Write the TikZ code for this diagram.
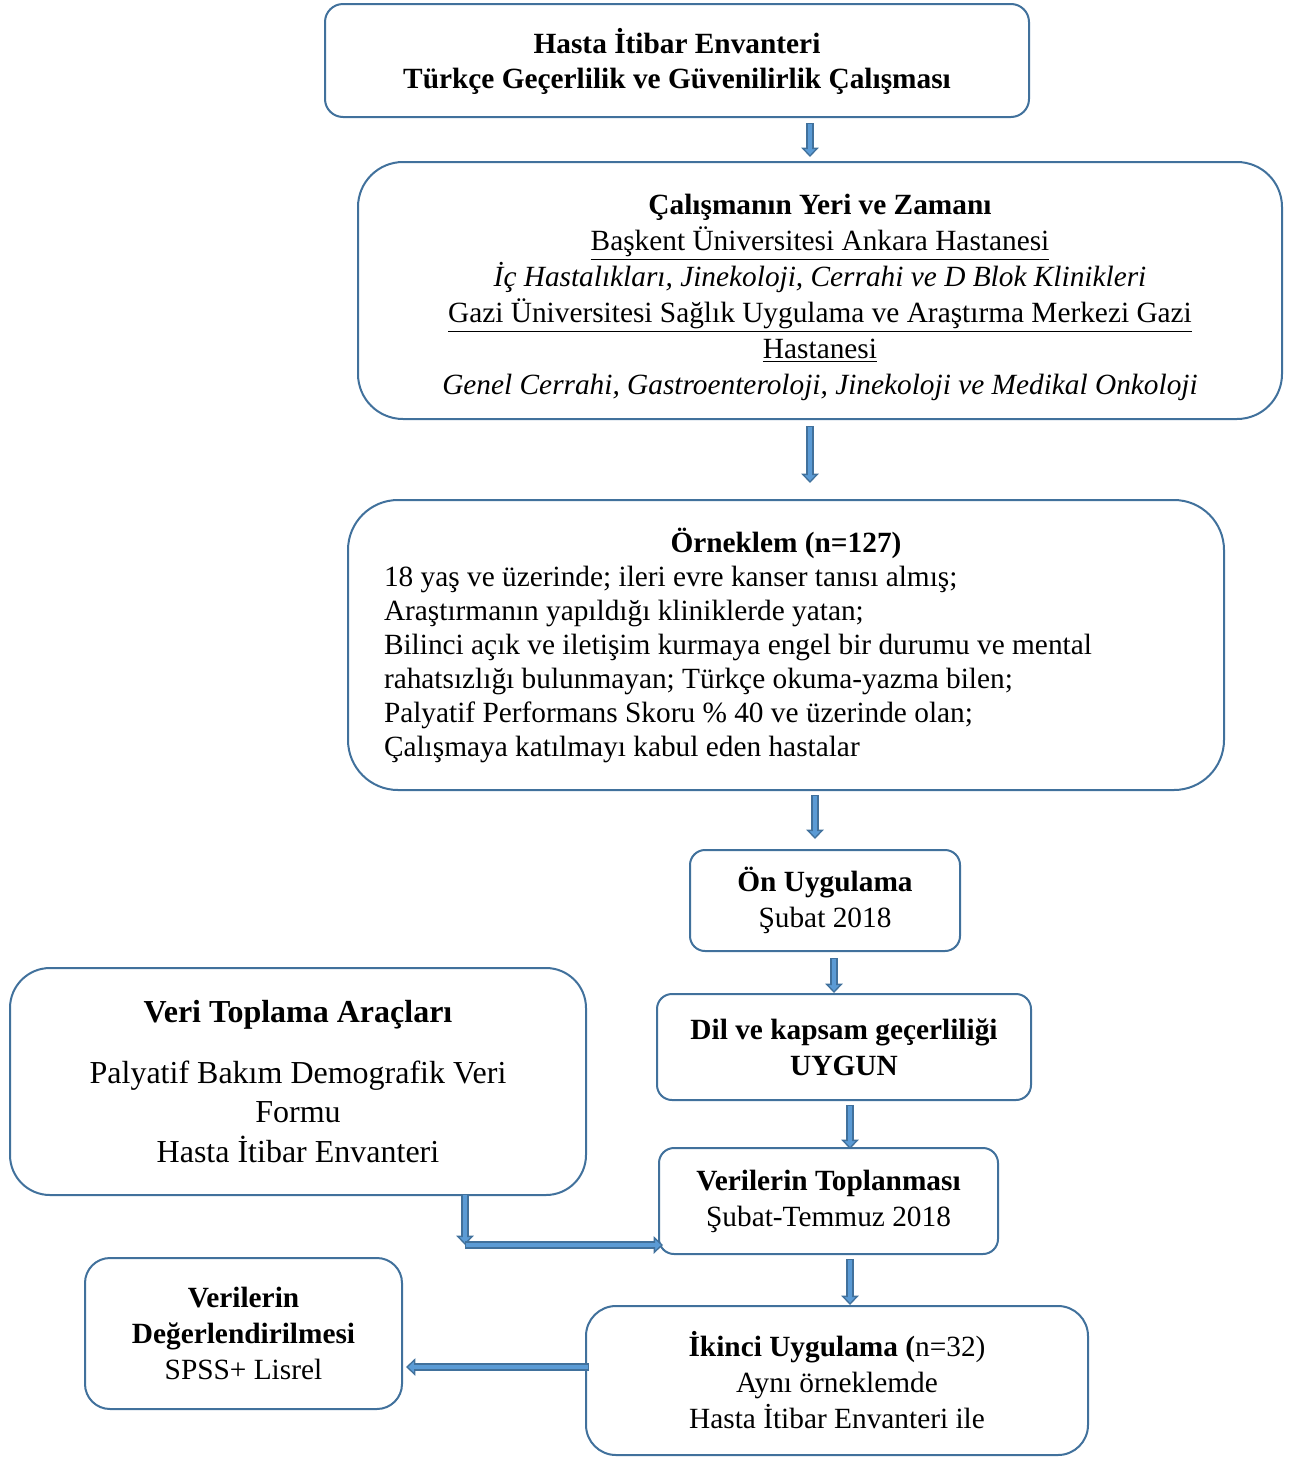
\documentclass[tikz,border=0pt]{standalone}
\usepackage{fontspec}
\setmainfont{Liberation Serif}
\usetikzlibrary{calc,arrows.meta}
\definecolor{boxedge}{HTML}{41719C}
\definecolor{arrowfill}{HTML}{5B9BD5}
\definecolor{arrowedge}{HTML}{41719C}

\tikzset{
    stagebox/.style={draw=boxedge, line width=1.5pt, fill=white, align=center, inner sep=0pt,
        font=\fontsize{22}{27}\selectfont},
    flowarrow/.style={arrowedge, line width=6pt,
        -{Triangle[width=13pt,length=7pt,fill=arrowfill,line width=1pt]},
        postaction={draw=arrowfill, line width=3pt, -, shorten >=5.5pt, shorten <=0.8pt}},
}

\begin{document}
\begin{tikzpicture}[x=0.75pt,y=-0.75pt]
    \useasboundingbox (0,0) rectangle (1296,1457);

    % Study title
    \node[stagebox, rounded corners=13.5pt, minimum width=528pt, minimum height=84.75pt,
        font=\fontsize{22}{26.25}\selectfont] (study) at (677,60.5)
        {\rule{0pt}{20pt}\textbf{Hasta İtibar Envanteri}\\\textbf{Türkçe Geçerlilik ve Güvenilirlik Çalışması}};

    % Place and time
    \node[stagebox, rounded corners=33.75pt, minimum width=693pt, minimum height=192.75pt] (place) at (820,290.5)
        {\rule{0pt}{26pt}\textbf{Çalışmanın Yeri ve Zamanı}\\
         \underline{Başkent Üniversitesi Ankara Hastanesi}\\
         \textit{İç Hastalıkları, Jinekoloji, Cerrahi ve D Blok Klinikleri}\\
         \underline{Gazi Üniversitesi Sağlık Uygulama ve Araştırma Merkezi Gazi}\\
         \underline{Hastanesi}\\
         \textit{Genel Cerrahi, Gastroenteroloji, Jinekoloji ve Medikal Onkoloji}};

    % Sample
    \node[stagebox, rounded corners=37.5pt, minimum width=657pt, minimum height=217.5pt,
        text width=603pt, align=left, font=\fontsize{22}{25.5}\selectfont] (sample) at (786,645)
        {\spaceskip=0pt\xspaceskip=0pt
         {\centering\textbf{Örneklem (n=127)}\par}
         18 yaş ve üzerinde; ileri evre kanser tanısı almış;\\
         Araştırmanın yapıldığı kliniklerde yatan;\\
         Bilinci açık ve iletişim kurmaya engel bir durumu ve mental\\
         rahatsızlığı bulunmayan; Türkçe okuma-yazma bilen;\\
         Palyatif Performans Skoru \% 40 ve üzerinde olan;\\
         Çalışmaya katılmayı kabul eden hastalar};

    % Right column steps
    \node[stagebox, rounded corners=11.25pt, minimum width=202.5pt, minimum height=75.75pt] (pretest) at (825,900.5)
        {\textbf{Ön Uygulama}\\Şubat 2018};
    \node[stagebox, rounded corners=11.25pt, minimum width=280.5pt, minimum height=79.5pt] (language) at (844,1047)
        {\textbf{Dil ve kapsam geçerliliği}\\\textbf{UYGUN}};
    \node[stagebox, rounded corners=11.25pt, minimum width=254.25pt, minimum height=79.5pt] (collect) at (828.5,1201)
        {\textbf{Verilerin Toplanması}\\Şubat-Temmuz 2018};
    \node[stagebox, rounded corners=22.5pt, minimum width=376.5pt, minimum height=111.75pt] (retest) at (837,1380.5)
        {\textbf{İkinci Uygulama (}n=32)\\Aynı örneklemde\\Hasta İtibar Envanteri ile};

    % Left column
    \node[stagebox, rounded corners=30pt, minimum width=432pt, minimum height=170.25pt,
        font=\fontsize{24}{29.5}\selectfont] (tools) at (298,1081.5)
        {\textbf{Veri Toplama Araçları}\\[16pt]Palyatif Bakım Demografik Veri\\Formu\\Hasta İtibar Envanteri};
    \node[stagebox, rounded corners=18.75pt, minimum width=237.75pt, minimum height=113.25pt] (analysis) at (243.5,1333.5)
        {\textbf{Verilerin}\\\textbf{Değerlendirilmesi}\\SPSS+ Lisrel};

    % Arrows
    \draw[flowarrow] ($(study.south)+(133,5)$) -- ($(place.north)+(-10,-4)$);
    \draw[flowarrow] ($(place.south)+(-10,6)$) -- ($(sample.north)+(24,-16)$);
    \draw[flowarrow] ($(sample.south)+(29,4)$) -- ($(pretest.north)+(-10,-10)$);
    \draw[flowarrow] ($(pretest.south)+(9,6)$) -- ($(language.north)+(-10,0)$);
    \draw[flowarrow] ($(language.south)+(6,4)$) -- ($(collect.north)+(21.5,2)$);
    \draw[flowarrow] ($(collect.south)+(21.5,4)$) -- ($(retest.north)+(13,0)$);
    \coordinate (bend) at ($(collect.west)+(-193,44)$);
    \draw[flowarrow] ($(tools.south)+(167,-2)$) -- (bend);
    \draw[flowarrow] (bend) -- ($(collect.west)+(5,44)$);
    \draw[flowarrow] ($(retest.west)+(4,-13.5)$) -- ($(analysis.east)+(3,33.5)$);
\end{tikzpicture}
\end{document}
